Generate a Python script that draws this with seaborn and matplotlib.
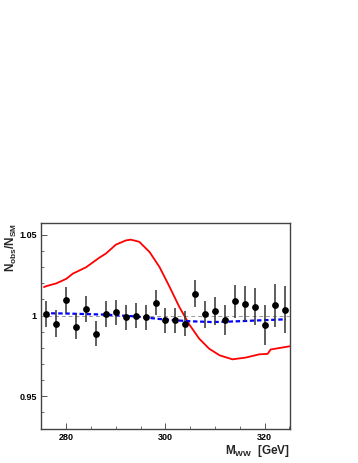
import numpy as np
import pandas as pd
import matplotlib
matplotlib.use('Agg')
import matplotlib.pyplot as plt
from matplotlib.ticker import MultipleLocator
import seaborn as sns

sns.set_theme(style='ticks')
plt.rcParams['font.family'] = ['Liberation Sans', 'DejaVu Sans']
plt.rcParams['font.weight'] = 'bold'
plt.rcParams['mathtext.fontset'] = 'custom'
plt.rcParams['mathtext.rm'] = 'Liberation Sans:bold'
plt.rcParams['mathtext.it'] = 'Liberation Sans:bold'
plt.rcParams['mathtext.bf'] = 'Liberation Sans:bold'
plt.rcParams['mathtext.default'] = 'rm'

# data points (ratio observed / SM)
mass = [276, 278, 280, 282, 284, 286, 288, 290, 292, 294, 296, 298, 300,
        302, 304, 306, 308, 310, 312, 314, 316, 318, 320, 322, 324]
ratio = [1.001, 0.995, 1.0097, 0.9932, 1.0043, 0.9888, 1.001, 1.002, 0.999,
         1.000, 0.999, 1.008, 0.997, 0.997, 0.995, 1.0136, 1.0008, 1.0027,
         0.997, 1.009, 1.0074, 1.0056, 0.9944, 1.0064, 1.0037]
ratio_err = [0.0083, 0.0083, 0.008, 0.0078, 0.008, 0.0077, 0.0078, 0.0078,
             0.0078, 0.0078, 0.0077, 0.0077, 0.0078, 0.0078, 0.0078, 0.0083,
             0.0084, 0.0086, 0.0093, 0.0102, 0.0107, 0.0117, 0.0124, 0.0134,
             0.0145]

# red curve
red_x = [275.5, 276, 278, 280, 281.3, 284, 286.7, 288, 290, 292, 293, 294.7,
         296.8, 298.8, 300.8, 302.8, 304.8, 306.8, 308.8, 310.9, 313.5, 316.2,
         318.9, 320.6, 321.2, 324.3, 325]
red_y = [1.0177, 1.0183, 1.0200, 1.0228, 1.026, 1.0300, 1.0360, 1.0385,
         1.0440, 1.0466, 1.0471, 1.0458, 1.0394, 1.0301, 1.0180, 1.0053,
         0.9945, 0.9857, 0.9795, 0.9754, 0.9729, 0.9740, 0.9760, 0.9763,
         0.9790, 0.9806, 0.9810]

# blue dashed curve
blue_x = [275.5, 280, 288, 294, 300, 305, 309.5, 313, 316.2, 320, 324.3]
blue_y = [1.0015, 1.0013, 1.0006, 0.9995, 0.9975, 0.9965, 0.996, 0.9963,
          0.9967, 0.9972, 0.9977]

df_pts = pd.DataFrame({'mass': mass, 'ratio': ratio, 'err': ratio_err})
df_red = pd.DataFrame({'x': red_x, 'y': red_y})
df_blue = pd.DataFrame({'x': blue_x, 'y': blue_y})

fig = plt.figure(figsize=(3.58, 4.63), dpi=100)
ax = fig.add_axes([0.1145, 0.0734, 0.6955, 0.4456])

ax.axhline(1.0, color='#999999', lw=0.7, ls=(0, (4, 3)), zorder=1)

sns.lineplot(data=df_red, x='x', y='y', ax=ax, color='#ff0000', lw=1.3,
             sort=False, zorder=3)
sns.lineplot(data=df_blue, x='x', y='y', ax=ax, color='#0000ff', lw=1.6,
             sort=False, zorder=3, linestyle=(0, (2, 1.2)))

ax.errorbar(df_pts['mass'], df_pts['ratio'], yerr=df_pts['err'], fmt='none',
            ecolor='#333333', elinewidth=1.1, capsize=0, zorder=4)
sns.scatterplot(data=df_pts, x='mass', y='ratio', ax=ax, color='black',
                s=24, edgecolor='black', linewidth=0, zorder=5)

ax.set_xlim(274.9, 325.1)
ax.set_ylim(0.9297, 1.0576)
ax.xaxis.set_major_locator(MultipleLocator(20))
ax.xaxis.set_minor_locator(MultipleLocator(5))
ax.yaxis.set_major_locator(MultipleLocator(0.05))
ax.yaxis.set_minor_locator(MultipleLocator(0.01))
ax.set_yticks([0.95, 1.0, 1.05])
ax.set_yticklabels(['0.95', '1', '1.05'])

ax.tick_params(which='both', direction='in', colors='#555555',
               labelcolor='black', labelsize=6.5, top=False, right=False)
ax.tick_params(which='major', length=4, width=0.7, pad=3)
ax.tick_params(which='minor', length=2, width=0.6)

for sp in ax.spines.values():
    sp.set_color('#444444')
    sp.set_linewidth(1.0)

ax.set_xlabel(r'$M_{WW}$  [GeV]', fontsize=8.5, fontweight='bold')
ax.xaxis.set_label_coords(1.0, -0.07)
ax.xaxis.label.set_horizontalalignment('right')
ax.set_ylabel(r'$N_{obs}/N_{SM}$', fontsize=8.5, fontweight='bold')
ax.yaxis.set_label_coords(-0.15, 1.0)
ax.yaxis.label.set_verticalalignment('top')
ax.yaxis.label.set_horizontalalignment('right')

fig.savefig('out.png', dpi=100)
